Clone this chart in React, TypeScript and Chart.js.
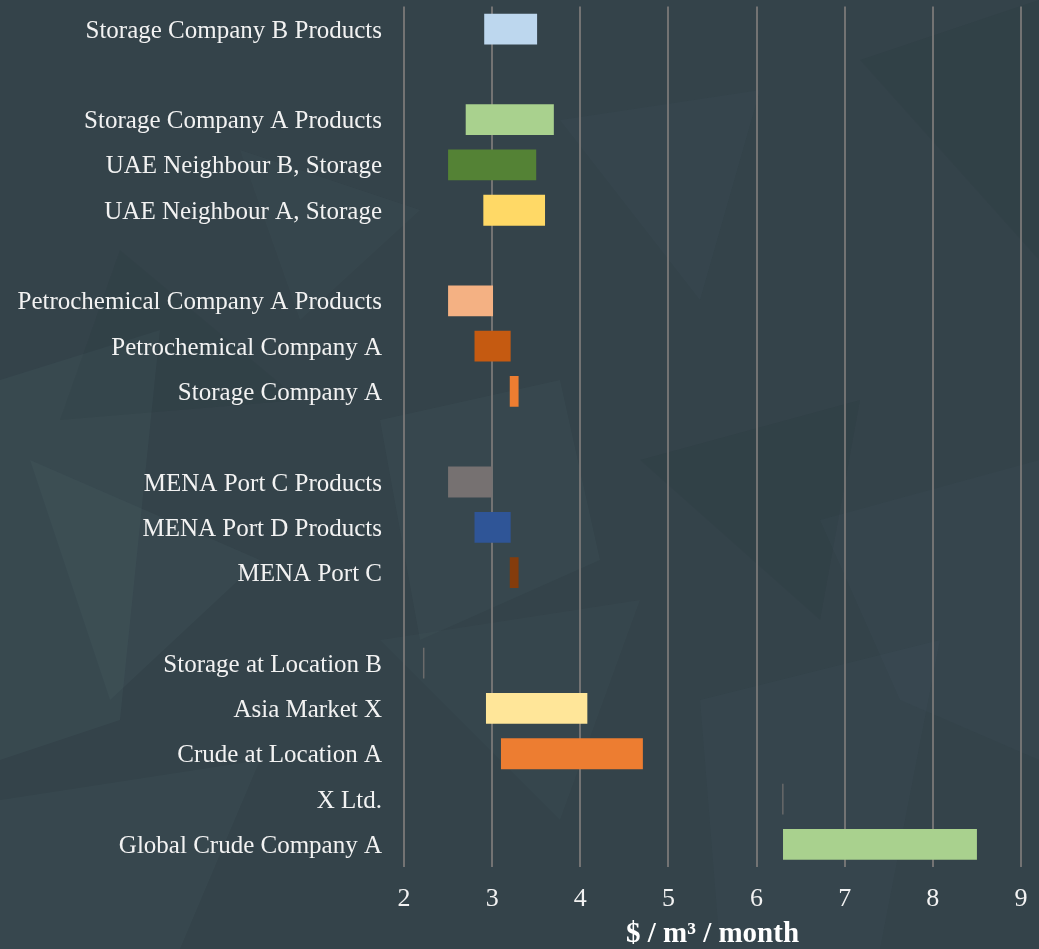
import React, { useEffect, useRef } from "react";
import { Chart, registerables } from "chart.js";

Chart.register(...registerables);

const categories = [
  "Storage Company B Products",
  "",
  "Storage Company A Products",
  "UAE Neighbour B, Storage",
  "UAE Neighbour A, Storage",
  "",
  "Petrochemical Company A Products",
  "Petrochemical Company A",
  "Storage Company A",
  "",
  "MENA Port C Products",
  "MENA Port D Products",
  "MENA Port C",
  "",
  "Storage at Location B",
  "Asia Market X",
  "Crude at Location A",
  "X Ltd.",
  "Global Crude Company A",
];

const lowValues = [2.91, null, 2.7, 2.5, 2.9, null, 2.5, 2.8, 3.2, null, 2.5, 2.8, 3.2, null, 2.215, 2.93, 3.1, 6.29, 6.3];
const highValues = [3.51, null, 3.7, 3.5, 3.6, null, 3.01, 3.21, 3.3, null, 3.0, 3.21, 3.3, null, 2.232, 4.08, 4.71, 6.306, 8.5];

const barColors = [
  "#BDD7EE", null, "#A9D18E", "#548235", "#FFD966", null,
  "#F4B183", "#C55A11", "#ED7D31", null,
  "#767171", "#2F5597", "#843C0C", null,
  "#6b6b6b", "#FFE699", "#ED7D31", "#6b6b6b", "#A9D18E",
];

const xMin = 2;
const xMax = 9;
const xTitle = "$ / m³ / month";

const bgPolys: Array<{ pts: number[][]; c: string }> = [
  { pts: [[0, 380], [160, 330], [120, 720], [0, 760]], c: "rgba(120,150,160,0.07)" },
  { pts: [[30, 460], [260, 560], [110, 700]], c: "rgba(140,170,175,0.05)" },
  { pts: [[380, 420], [560, 380], [600, 560], [420, 640]], c: "rgba(120,150,160,0.05)" },
  { pts: [[240, 150], [420, 210], [300, 320]], c: "rgba(120,150,160,0.04)" },
  { pts: [[560, 120], [760, 90], [700, 300]], c: "rgba(120,150,160,0.035)" },
  { pts: [[0, 800], [260, 760], [180, 949], [0, 949]], c: "rgba(120,150,160,0.05)" },
  { pts: [[640, 460], [860, 400], [820, 620]], c: "rgba(20,30,35,0.06)" },
  { pts: [[820, 520], [1039, 460], [1039, 760], [900, 700]], c: "rgba(120,150,160,0.035)" },
  { pts: [[380, 640], [640, 600], [560, 820]], c: "rgba(120,150,160,0.04)" },
  { pts: [[700, 700], [940, 640], [880, 949], [720, 949]], c: "rgba(120,150,160,0.035)" },
  { pts: [[860, 60], [1039, 0], [1039, 260]], c: "rgba(20,30,35,0.06)" },
  { pts: [[120, 250], [300, 400], [60, 420]], c: "rgba(20,30,35,0.06)" },
];

const backgroundPlugin = {
  id: "bgTexture",
  beforeDraw(chart: any) {
    const { ctx, width, height } = chart;
    ctx.save();
    ctx.fillStyle = "#34434a";
    ctx.fillRect(0, 0, width, height);
    for (const p of bgPolys) {
      ctx.beginPath();
      p.pts.forEach((pt, i) => (i === 0 ? ctx.moveTo(pt[0], pt[1]) : ctx.lineTo(pt[0], pt[1])));
      ctx.closePath();
      ctx.fillStyle = p.c;
      ctx.fill();
    }
    ctx.restore();
  },
};

export default function App() {
  const ref = useRef<HTMLCanvasElement | null>(null);

  useEffect(() => {
    if (!ref.current) return;
    const data = categories.map((_, i) =>
      lowValues[i] === null || highValues[i] === null ? null : [lowValues[i], highValues[i]]
    );
    const chart = new Chart(ref.current, {
      type: "bar",
      data: {
        labels: categories,
        datasets: [
          {
            data: data as any,
            backgroundColor: barColors.map((c) => c || "transparent"),
            borderWidth: 0,
            categoryPercentage: 1,
            barPercentage: 0.68,
          },
        ],
      },
      plugins: [backgroundPlugin],
      options: {
        indexAxis: "y",
        animation: false,
        responsive: true,
        maintainAspectRatio: false,
        layout: { padding: { top: 6.4, right: 18, left: 0, bottom: 0 } },
        plugins: {
          legend: { display: false },
          tooltip: { enabled: false },
        },
        scales: {
          x: {
            type: "linear",
            min: xMin,
            max: xMax,
            ticks: {
              stepSize: 1,
              color: "#f2f2f2",
              padding: 17,
              font: { family: "'Liberation Serif', serif", size: 26 },
            },
            grid: { color: "#737373", lineWidth: 2, drawTicks: false },
            border: { display: false },
            title: {
              display: true,
              text: xTitle,
              color: "#ffffff",
              font: { family: "'Liberation Serif', serif", size: 29, weight: "bold", lineHeight: 1 },
              padding: { top: 0, bottom: 0 },
            },
            afterFit(scale: any) {
              scale.height = 82;
              scale.paddingLeft = 0;
              scale.paddingRight = 0;
            },
          },
          y: {
            type: "category",
            ticks: {
              color: "#f2f2f2",
              padding: 22,
              labelOffset: 2,
              autoSkip: false,
              font: { family: "'Liberation Serif', serif", size: 25 },
            },
            grid: { display: false, drawTicks: false },
            border: { display: false },
            afterFit(scale: any) {
              scale.width = 404;
              scale.paddingTop = 0;
              scale.paddingBottom = 0;
            },
          },
        },
      },
    });
    return () => chart.destroy();
  }, []);

  return (
    <div style={{ position: "absolute", left: 0, top: 0, width: 1039, height: 949 }}>
      <canvas ref={ref} />
    </div>
  );
}
